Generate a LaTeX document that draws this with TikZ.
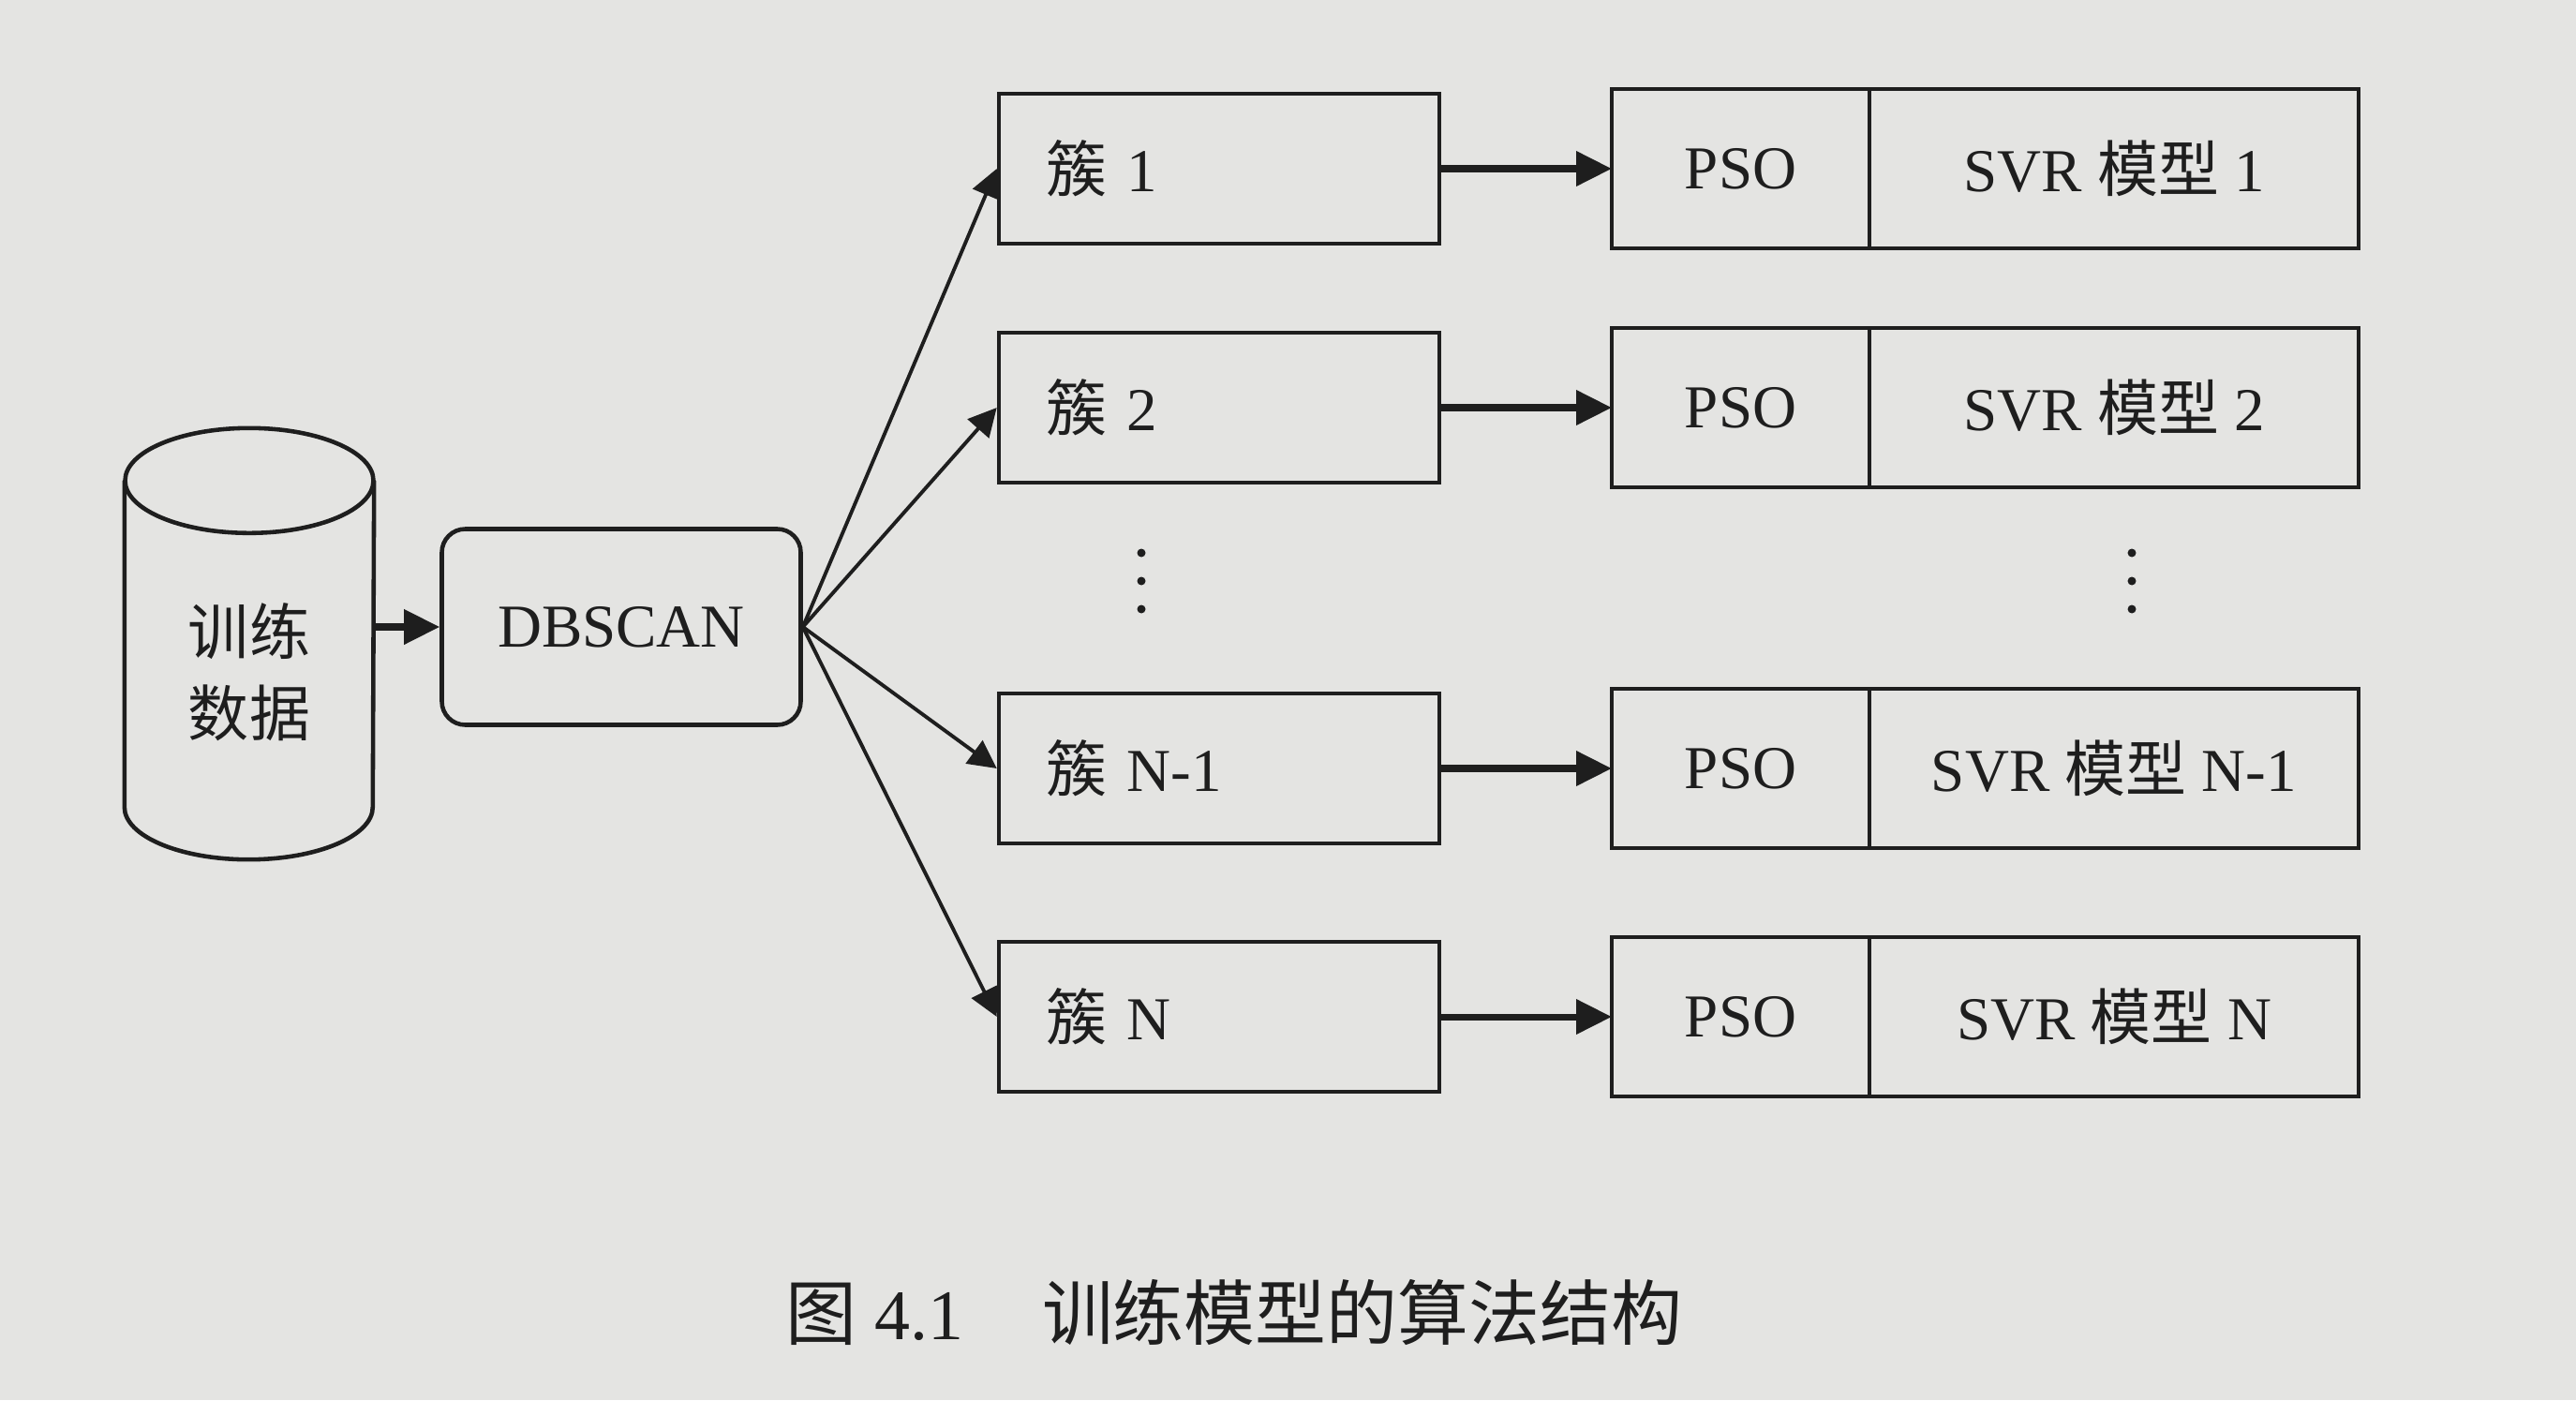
\documentclass[tikz,border=0pt]{standalone}
\usepackage{fontspec}
\setmainfont{Liberation Serif}
\newfontfamily\cjk{Noto Sans CJK SC}
\usetikzlibrary{arrows.meta,positioning}
\definecolor{paper}{RGB}{228,228,226}
\definecolor{ink}{RGB}{30,30,30}
\newcommand{\zh}[1]{{\cjk #1}}

\begin{document}
\begin{tikzpicture}[
  font=\fontsize{18.5}{22}\selectfont,
  every node/.style={text=ink},
  clusterbox/.style={draw=ink, line width=1.3pt, minimum height=1.6cm, minimum width=4.7cm,
    text width=3.7cm, align=left, inner xsep=0.5cm},
  half/.style={draw=ink, line width=1.3pt, minimum height=1.7cm, inner sep=0pt, outer sep=0pt},
  fan/.style={draw=ink, line width=1.1pt, -{Triangle[length=0.3cm,width=0.3cm]}},
  link/.style={draw=ink, line width=2pt, -{Triangle[length=0.38cm,width=0.36cm]}}
]
\fill [paper] (0,0) rectangle (27.49,14.94);
\useasboundingbox (0,0) rectangle (27.49,14.94);

% input data (cylinder) and clustering
\node [minimum width=2.65cm, minimum height=4.59cm, inner sep=0pt] (data) at (2.66,8.07) {};
\draw [ink, line width=1.3pt] ([yshift=-0.56cm]data.north west) -- ([yshift=0.56cm]data.south west)
  arc [start angle=180, end angle=360, x radius=1.325cm, y radius=0.56cm]
  -- ([yshift=-0.56cm]data.north east);
\draw [ink, line width=1.3pt] ([yshift=-0.56cm]data.north) ellipse [x radius=1.325cm, y radius=0.56cm];
\node [align=center] (datatext) at ([yshift=-0.3cm]data.center) {\zh{训练}\\[0.1cm]\zh{数据}};
\node [draw=ink, line width=1.3pt, rounded corners=0.25cm, minimum width=3.83cm,
  minimum height=2.09cm] (dbscan) at (6.63,8.25) {DBSCAN};
\draw [link] (data.east |- dbscan.west) -- (dbscan.west);

% clusters
\node [clusterbox] (c1) at (13.01,13.14) {\zh{簇} 1};
\node [clusterbox] (c2) at (13.01,10.59) {\zh{簇} 2};
\coordinate (cdots) at (12.18,8.74);
\fill [ink] ([yshift=0.3cm]cdots) circle (0.045) (cdots) circle (0.045) ([yshift=-0.3cm]cdots) circle (0.045);
\node [clusterbox] (c3) at (13.01,6.74) {\zh{簇} N-1};
\node [clusterbox] (c4) at (13.01,4.09) {\zh{簇} N};
\draw [fan] (dbscan.east) -- (c1.west);
\draw [fan] (dbscan.east) -- (c2.west);
\draw [fan] (dbscan.east) -- (c3.west);
\draw [fan] (dbscan.east) -- (c4.west);

% PSO + SVR models
\node [half, minimum width=2.75cm] (p1) at (18.575,13.14) {PSO};
\node [half, minimum width=5.22cm, anchor=west] (m1) at (p1.east) {SVR \zh{模型} 1};
\node [half, minimum width=2.75cm] (p2) at (18.575,10.59) {PSO};
\node [half, minimum width=5.22cm, anchor=west] (m2) at (p2.east) {SVR \zh{模型} 2};
\coordinate (mdots) at (22.75,8.74);
\fill [ink] ([yshift=0.3cm]mdots) circle (0.045) (mdots) circle (0.045) ([yshift=-0.3cm]mdots) circle (0.045);
\node [half, minimum width=2.75cm] (p3) at (18.575,6.74) {PSO};
\node [half, minimum width=5.22cm, anchor=west] (m3) at (p3.east) {SVR \zh{模型} N-1};
\node [half, minimum width=2.75cm] (p4) at (18.575,4.09) {PSO};
\node [half, minimum width=5.22cm, anchor=west] (m4) at (p4.east) {SVR \zh{模型} N};
\draw [link] (c1) -- (p1);
\draw [link] (c2) -- (p2);
\draw [link] (c3) -- (p3);
\draw [link] (c4) -- (p4);

\node (caption) at (13.17,0.94) {\fontsize{21.6}{26}\selectfont\zh{图} 4.1\hspace{1.1em}\zh{训练模型的算法结构}};
\end{tikzpicture}
\end{document}
